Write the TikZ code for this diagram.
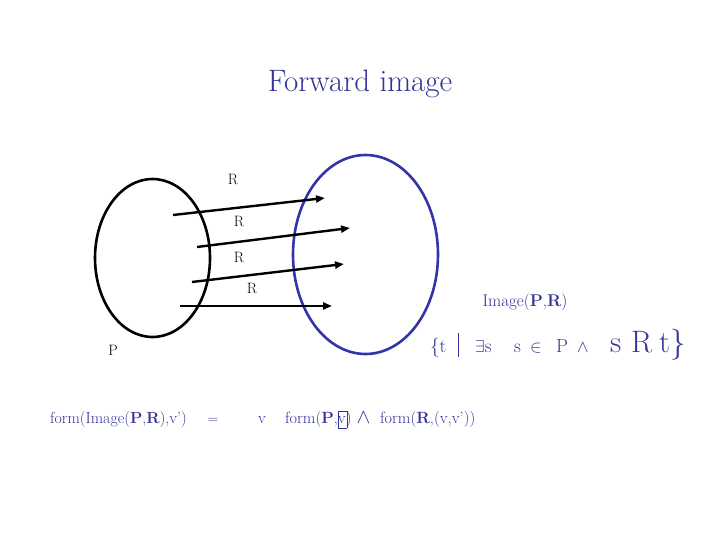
\documentclass[tikz,border=0pt]{standalone}
\usepackage{amssymb}
\usetikzlibrary{arrows.meta}
\definecolor{tblue}{HTML}{333399}
\definecolor{eblue}{HTML}{3333AA}
\newcommand{\tok}[2]{\makebox[#1pt][l]{#2}}
\begin{document}
\begin{tikzpicture}[x=1pt,y=-1pt,
  rel/.style={-{Triangle[length=9pt,width=7pt]},line width=2.4pt,black},
  lbl/.style={font=\fontsize{15}{17}\selectfont,inner sep=0pt},
  btxt/.style={text=tblue,inner sep=0pt},
]
\useasboundingbox (0,0) rectangle (720,540);
\node[text=tblue,font=\fontsize{31}{34}\selectfont] (title) at (360,84) {Forward image};
% ellipses
\draw[line width=2.6pt,black] (152.5,258) ellipse [x radius=57.5, y radius=79];
\draw[line width=2.6pt,eblue] (365.5,254.5) ellipse [x radius=72.5, y radius=99.5];
% arrow endpoints
\coordinate (a1) at (173,215); \coordinate (b1) at (325,198);
\coordinate (a2) at (197,247); \coordinate (b2) at (350,228);
\coordinate (a3) at (192,282); \coordinate (b3) at (344,264);
\coordinate (a4) at (180,306); \coordinate (b4) at (332,306);
\draw[rel] (a1) -- (b1);
\draw[rel] (a2) -- (b2);
\draw[rel] (a3) -- (b3);
\draw[rel] (a4) -- (b4);
\node[lbl] (r1) at (233,179) {R};
\node[lbl] (r2) at (239,221) {R};
\node[lbl] (r3) at (239,257) {R};
\node[lbl] (r4) at (252,288) {R};
\node[lbl] (p) at (113,350) {P};
\node[btxt,font=\fontsize{17}{19}\selectfont] (img) at (525,302) {Image(\textbf{P},\textbf{R})};
\node[btxt,anchor=base west] (set) at (430,352) {\fontsize{19}{21}\selectfont\tok{28}{\{t}\tok{17}{\rule[-5pt]{1pt}{24pt}}\tok{39}{$\exists$s}\tok{16}{s}\tok{26}{$\in$}\tok{21}{P}\tok{33}{$\wedge$}\fontsize{31}{33}\selectfont\tok{21}{s}\tok{28}{R}t\}};
\node[btxt,anchor=base west,font=\fontsize{16}{18}\selectfont] (f1) at (50,423) {form(Image(\textbf{P},\textbf{R}),v')};
\node[btxt,anchor=base,font=\fontsize{14}{16}\selectfont] (eq) at (213,423) {=};
\node[btxt,anchor=base,font=\fontsize{16}{18}\selectfont] (v) at (262,423) {v};
\node[btxt,anchor=base west,font=\fontsize{16.3}{18}\selectfont] (f2) at (285,423) {form(\textbf{P},\rlap{\raisebox{-2pt}{\framebox[9pt]{\rule{0pt}{11pt}}}}v) \fontsize{22}{24}\selectfont$\wedge$\fontsize{16.3}{18}\selectfont\ \ form(\textbf{R},(v,v'))};
\end{tikzpicture}
\end{document}
